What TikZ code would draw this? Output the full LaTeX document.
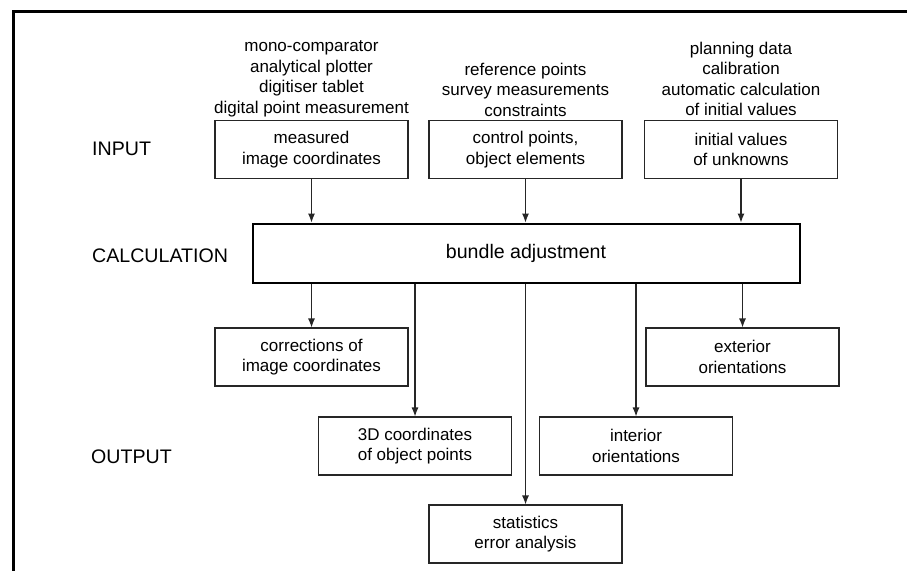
\documentclass[tikz,border=0pt]{standalone}
\usepackage{fontspec}
\setmainfont{Liberation Sans}
\usetikzlibrary{arrows.meta}
\tikzset{
  box/.style={draw=black!85, line width=1.1pt, minimum width=193pt, minimum height=58pt, inner sep=0pt, align=center, font=\fontsize{17}{20.5}\selectfont},
  bigbox/.style={draw=black, line width=2pt, minimum width=547pt, minimum height=59pt, inner sep=0pt, font=\fontsize{19.6}{23}\selectfont},
  src/.style={inner sep=0pt, align=center, font=\fontsize{17}{20.5}\selectfont},
  lab/.style={inner sep=0pt, anchor=west, font=\fontsize{19.6}{23}\selectfont},
  arr/.style={draw=black!85, line width=1.1pt, -{Latex[length=9pt,width=7pt]}},
  frame/.style={line width=3pt}
}
\begin{document}
\begin{tikzpicture}[x=1pt,y=-1pt]
\useasboundingbox (0,0) rectangle (907,570);
\coordinate (fa) at (13,572);
\coordinate (fb) at (13,11);
\coordinate (fc) at (910,11);
\draw[frame] (fa) -- (fb) -- (fc);

% labels
\node[lab] (linput) at (92,149) {INPUT};
\node[lab] (lcalc) at (92,256) {CALCULATION};
\node[lab] (lout) at (91,457) {OUTPUT};

% input boxes
\node[box] (meas) at (311.5,149.5) {measured\\image coordinates};
\node[box] (ctrl) at (525.5,149.5) {control points,\\object elements};
\node[box] (init) at (741,149.5) {initial values\\of unknowns};

% sources
\node[src] (smeas) at (311.5,79) {mono-comparator\\analytical plotter\\digitiser tablet\\digital point measurement};
\node[src] (sctrl) at (525.5,89.5) {reference points\\survey measurements\\constraints};
\node[src] (sinit) at (741,79) {planning data\\calibration\\automatic calculation\\of initial values};

% bundle
\node[bigbox] (bundle) at (526,253) {bundle adjustment};

% outputs
\node[box] (corr) at (311.5,357) {corrections of\\image coordinates};
\node[box] (ext) at (742.5,357) {exterior\\orientations};
\node[box] (d3) at (415,446) {3D coordinates\\of object points};
\node[box] (intr) at (636,446) {interior\\orientations};
\node[box] (stat) at (525.5,534) {statistics\\error analysis};

% arrows in
\draw[arr] (meas.south) -- (meas.south |- bundle.north);
\draw[arr] (ctrl.south) -- (ctrl.south |- bundle.north);
\draw[arr] (init.south) -- (init.south |- bundle.north);

% arrows out
\draw[arr] (bundle.south -| corr.north) -- (corr.north);
\draw[arr] (bundle.south -| ext.north) -- (ext.north);
\draw[arr] (bundle.south -| d3.north) -- (d3.north);
\draw[arr] (bundle.south -| intr.north) -- (intr.north);
\draw[arr] (bundle.south -| stat.north) -- (stat.north);
\end{tikzpicture}
\end{document}
